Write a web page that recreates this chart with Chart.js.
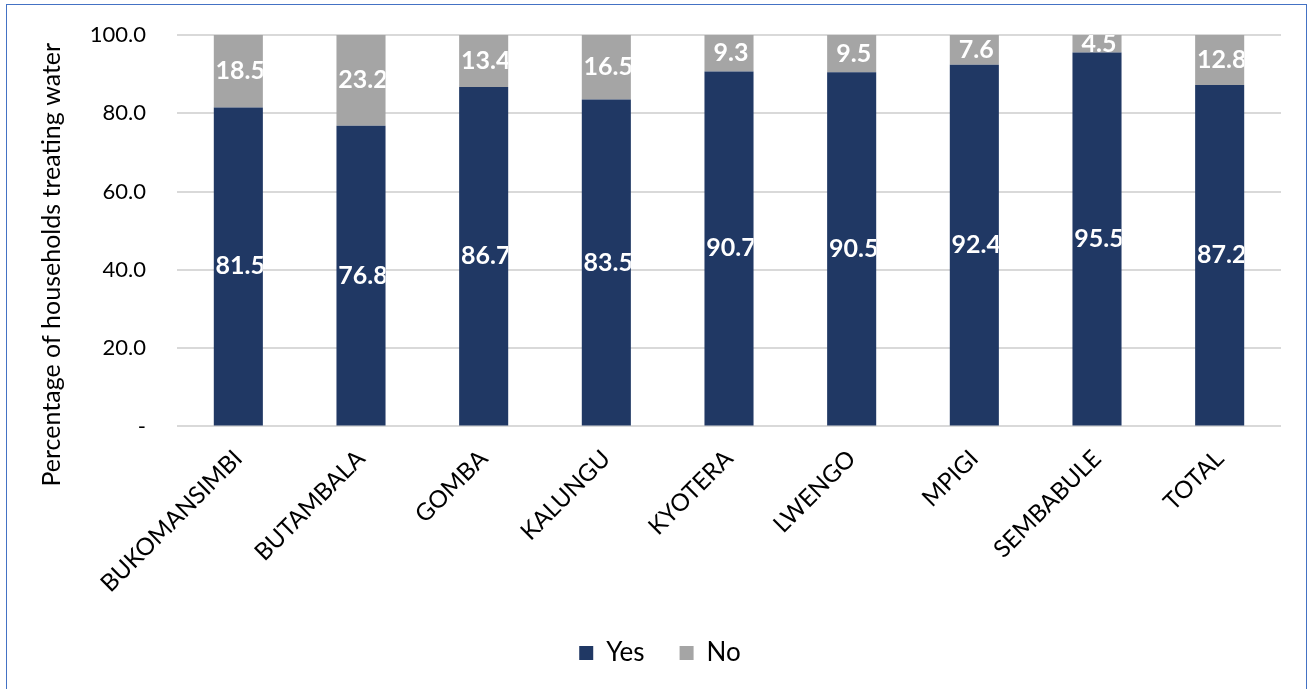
<!DOCTYPE html>
<html><head><meta charset="utf-8">
<script src="https://cdn.jsdelivr.net/npm/chart.js@4/dist/chart.umd.min.js"></script>
<style>
html,body{margin:0;padding:0;background:#fff;}
#frame{position:absolute;left:6px;top:4px;width:1301px;height:690px;border:1.5px solid #4472C4;box-sizing:border-box;}
#wrap{position:absolute;left:0;top:0;width:1310px;height:689px;}
</style></head>
<body>
<div id="frame"></div>
<div id="wrap"><canvas id="c" width="1310" height="689"></canvas></div>
<script>
const categories = ["BUKOMANSIMBI","BUTAMBALA","GOMBA","KALUNGU","KYOTERA","LWENGO","MPIGI","SEMBABULE","TOTAL"];
const yesValues = [81.5,76.8,86.7,83.5,90.7,90.5,92.4,95.5,87.2];
const noValues  = [18.5,23.2,13.4,16.5,9.3,9.5,7.6,4.5,12.8];
const yTicks = [0,20,40,60,80,100];
const yTitle = 'Percentage of households treating water';

const FONT = "Lato, 'Open Sans', sans-serif";

const labelPlugin = {
  id:'barLabels',
  afterDatasetsDraw(chart){
    const ctx = chart.ctx;
    chart.data.datasets.forEach((ds,di)=>{
      const meta = chart.getDatasetMeta(di);
      meta.data.forEach((bar,i)=>{
        const p = bar.getProps(['x','y','base','width'],true);
        const top = Math.min(p.y,p.base), bot = Math.max(p.y,p.base);
        ctx.save();
        ctx.beginPath();
        ctx.rect(p.x-p.width/2, top, p.width, bot-top);
        ctx.clip();
        ctx.fillStyle='#ffffff';
        ctx.font = "bold 25px " + FONT;
        ctx.textAlign='center';
        ctx.textBaseline='middle';
        ctx.fillText(ds.data[i].toFixed(1), p.x+2, (top+bot)/2);
        ctx.restore();
      });
    });
  }
};

const titlePlugin = {
  id:'yTitle',
  afterDraw(chart){
    const ctx = chart.ctx, a = chart.chartArea;
    ctx.save();
    ctx.translate(52, (a.top+a.bottom)/2 + 34);
    ctx.rotate(-Math.PI/2);
    ctx.fillStyle='#000';
    ctx.font = "25px " + FONT;
    ctx.textAlign='center';
    ctx.textBaseline='middle';
    ctx.fillText(yTitle,0,0);
    ctx.restore();
  }
};

// legend drawn from the datasets' own labels and colours
const legendPlugin = {
  id:'customLegend',
  afterDraw(chart){
    const ctx = chart.ctx;
    const box = 14, gapText = 13, gapItem = 35, cx = 660, cy = 653;
    ctx.save();
    ctx.font = "26px " + FONT;
    ctx.textBaseline='middle';
    ctx.textAlign='left';
    const items = chart.data.datasets.map(d=>({label:d.label,color:d.backgroundColor,w:box+gapText+ctx.measureText(d.label).width}));
    const total = items.reduce((s,it)=>s+it.w,0) + gapItem*(items.length-1);
    let x = cx - total/2;
    items.forEach(it=>{
      ctx.fillStyle = it.color;
      ctx.fillRect(x, cy-box/2, box, box);
      ctx.fillStyle = '#000';
      ctx.fillText(it.label, x+box+gapText, cy);
      x += it.w + gapItem;
    });
    ctx.restore();
  }
};

new Chart(document.getElementById('c'),{
  type:'bar',
  data:{
    labels:categories,
    datasets:[
      {label:'Yes',data:yesValues,backgroundColor:'#203864',barPercentage:0.4,categoryPercentage:1.0},
      {label:'No',data:noValues,backgroundColor:'#A5A5A5',barPercentage:0.4,categoryPercentage:1.0}
    ]
  },
  plugins:[labelPlugin,titlePlugin,legendPlugin],
  options:{
    responsive:false,
    animation:false,
    layout:{padding:{left:60,right:29,top:35,bottom:81}},
    plugins:{
      legend:{display:false},
      tooltip:{enabled:false}
    },
    scales:{
      x:{stacked:true,grid:{display:false},border:{display:false},
         ticks:{color:'#000',font:{family:FONT,size:24},maxRotation:45,minRotation:45,padding:10}},
      y:{stacked:true,min:0,max:100,
         afterBuildTicks(axis){axis.ticks=yTicks.map(v=>({value:v}));},
         afterFit(axis){axis.width = 117;},
         grid:{color:'#D9D9D9',lineWidth:2,drawTicks:true,tickLength:25,tickColor:'rgba(0,0,0,0)'},border:{display:false},
         ticks:{color:'#000',font:{family:FONT,size:22},padding:6,callback:v=>v===0?'-':v.toFixed(1)}}
    }
  }
});
</script>
</body></html>
